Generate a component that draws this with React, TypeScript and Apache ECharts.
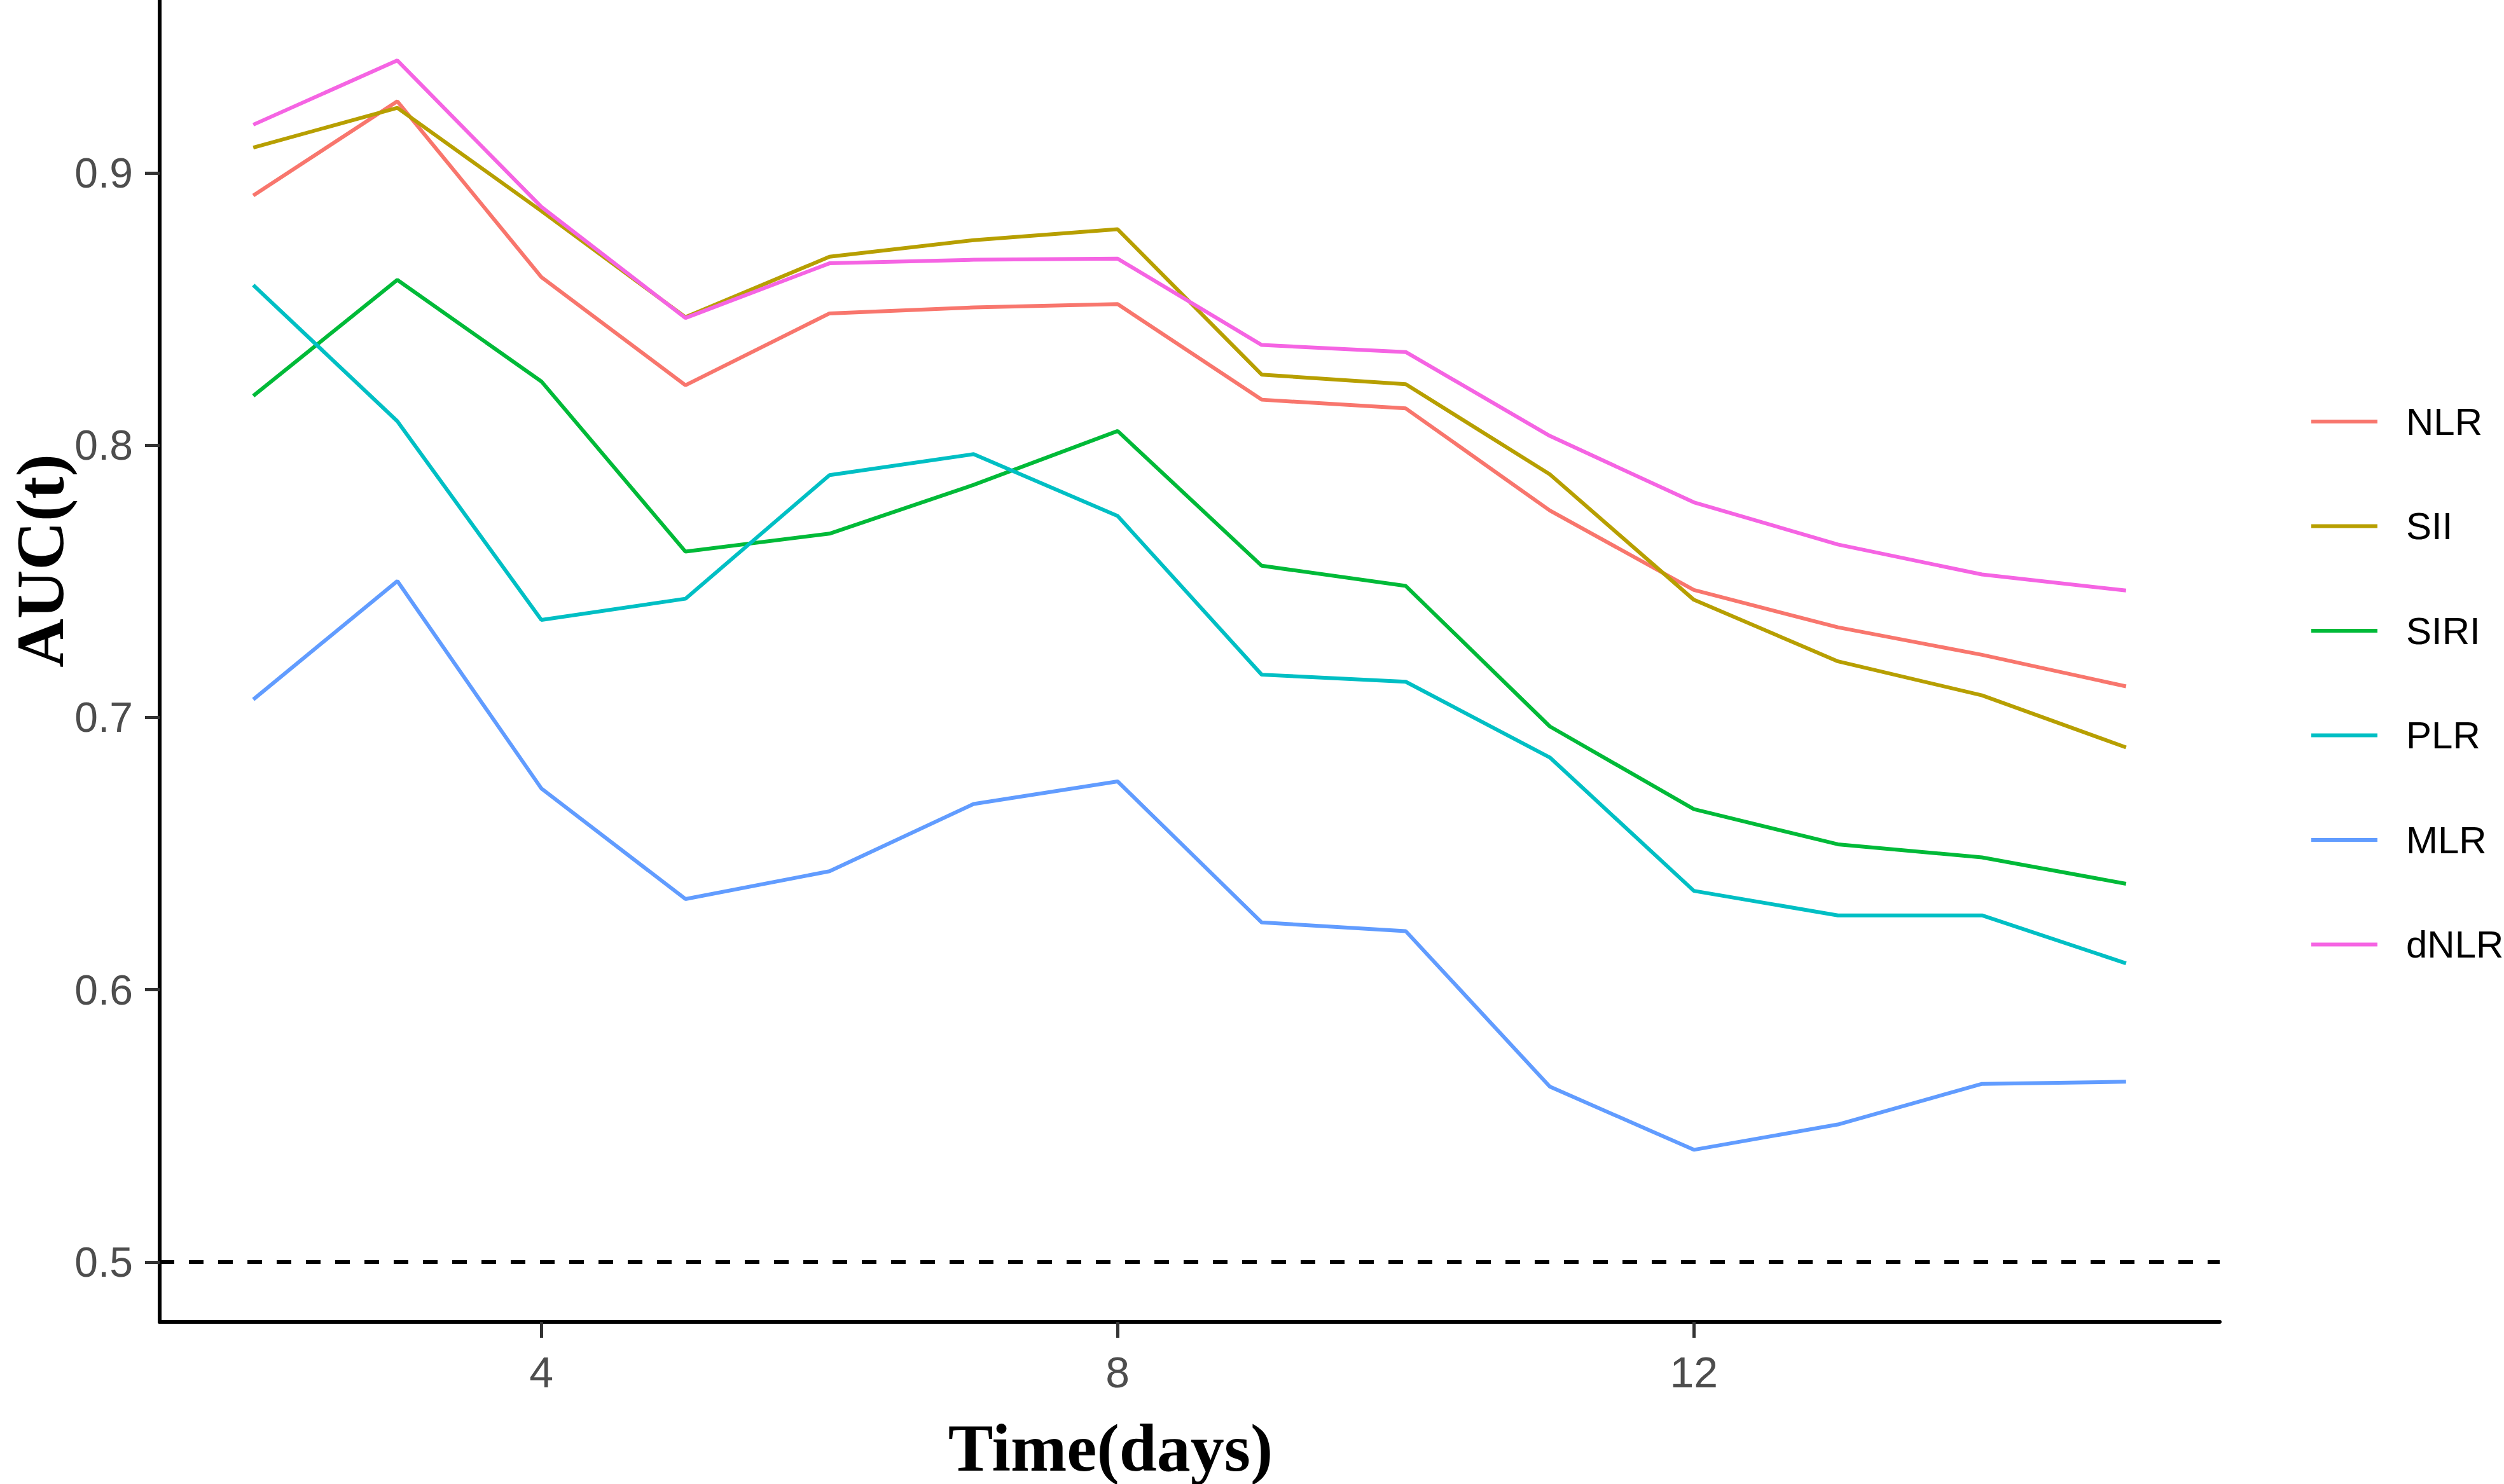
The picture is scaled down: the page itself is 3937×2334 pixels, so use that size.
import React, { useEffect, useRef } from "react";
import * as echarts from "echarts";

const days = [2, 3, 4, 5, 6, 7, 8, 9, 10, 11, 12, 13, 14, 15];
const seriesNames = ["NLR", "SII", "SIRI", "PLR", "MLR", "dNLR"];
const seriesColors = ["#F8766D", "#B79F00", "#00BA38", "#00BFC4", "#619CFF", "#F564E3"];
const nlr = [0.8917, 0.9263, 0.8617, 0.822, 0.8484, 0.8506, 0.8518, 0.8167, 0.8135, 0.776, 0.7468, 0.7331, 0.723, 0.7114];
const sii = [0.9093, 0.9239, 0.886, 0.847, 0.8692, 0.8753, 0.8793, 0.8259, 0.8224, 0.7893, 0.7432, 0.7206, 0.7081, 0.689];
const siri = [0.8181, 0.8607, 0.8234, 0.7609, 0.7675, 0.7854, 0.8052, 0.7557, 0.7483, 0.6967, 0.6663, 0.6534, 0.6486, 0.6389];
const plr = [0.8588, 0.8088, 0.7358, 0.7436, 0.789, 0.7967, 0.774, 0.7157, 0.7131, 0.6853, 0.6363, 0.6273, 0.6273, 0.6097];
const mlr = [0.7066, 0.7501, 0.6739, 0.6333, 0.6435, 0.6682, 0.6765, 0.6247, 0.6215, 0.5644, 0.5412, 0.5505, 0.5654, 0.5662];
const dnlr = [0.9177, 0.9413, 0.8875, 0.8467, 0.8668, 0.8681, 0.8685, 0.8368, 0.8342, 0.8034, 0.779, 0.7635, 0.7525, 0.7466];
const seriesValues = [nlr, sii, siri, plr, mlr, dnlr];
const xTicks = [4, 8, 12];
const yTicks = [0.5, 0.6, 0.7, 0.8, 0.9];
const refLine = 0.5;
const xTitle = "Time(days)";
const yTitle = "AUC(t)";

const sans = "'Liberation Sans', Arial, sans-serif";
const serif = "'Liberation Serif', 'Times New Roman', serif";

export default function App() {
  const ref = useRef<HTMLDivElement>(null);
  useEffect(() => {
    document.body.style.margin = "0";
    if (!ref.current) return;
    const chart = echarts.init(ref.current, null, { renderer: "svg" });
    const lineSeries = seriesNames.map((name, i) => ({
      name,
      type: "line",
      data: days.map((d, j) => [d, seriesValues[i][j]]),
      showSymbol: false,
      symbol: "none",
      color: seriesColors[i],
      lineStyle: { width: 6, color: seriesColors[i] },
      silent: true,
    }));
    const option: any = {
      animation: false,
      backgroundColor: "#ffffff",
      grid: { left: 251, top: 0, width: 3239, height: 2079 },
      xAxis: {
        type: "value",
        min: 1.35,
        max: 15.65,
        axisLine: { show: true, onZero: false, lineStyle: { color: "#000", width: 6 } },
        axisTick: { show: true, length: 25, customValues: xTicks, lineStyle: { color: "#333", width: 5 } },
        axisLabel: {
          customValues: xTicks,
          margin: 45,
          fontSize: 68,
          color: "#4D4D4D",
          fontFamily: sans,
          formatter: (v: number) => String(v),
        },
        splitLine: { show: false },
      },
      yAxis: {
        type: "value",
        min: 0.478,
        max: 0.9635,
        axisLine: { show: true, onZero: false, lineStyle: { color: "#000", width: 6 } },
        axisTick: { show: true, length: 23, customValues: yTicks, lineStyle: { color: "#333", width: 5 } },
        axisLabel: {
          customValues: yTicks,
          margin: 42,
          fontSize: 66,
          color: "#4D4D4D",
          fontFamily: sans,
          formatter: (v: number) => v.toFixed(1),
        },
        splitLine: { show: false },
      },
      legend: {
        data: seriesNames,
        orient: "vertical",
        left: 3629,
        top: 618,
        icon: "rect",
        itemWidth: 104,
        itemHeight: 6,
        itemGap: 84.5,
        textStyle: {
          fontSize: 60,
          color: "#000",
          fontFamily: sans,
          lineHeight: 80,
          padding: [0, 0, 0, 40],
        },
      },
      graphic: [
        {
          type: "text",
          x: 1746,
          y: 2330,
          style: {
            text: xTitle,
            font: `bold 106px ${serif}`,
            fill: "#000",
            textAlign: "center",
            textVerticalAlign: "bottom",
            align: "center",
            verticalAlign: "bottom",
          },
        },
        {
          type: "text",
          x: 63,
          y: 882,
          rotation: Math.PI / 2,
          style: {
            text: yTitle,
            font: `bold 106px ${serif}`,
            fill: "#000",
            textAlign: "center",
            textVerticalAlign: "middle",
            align: "center",
            verticalAlign: "middle",
          },
        },
      ],
      series: [
        {
          name: "ref",
          type: "line",
          data: [],
          silent: true,
          markLine: {
            silent: true,
            symbol: "none",
            label: { show: false },
            lineStyle: { color: "#000", width: 6, type: [23, 23] },
            data: [{ yAxis: refLine }],
          },
        },
        ...lineSeries,
      ],
    };
    chart.setOption(option);
    return () => chart.dispose();
  }, []);
  return <div ref={ref} style={{ width: 3937, height: 2334 }} />;
}
